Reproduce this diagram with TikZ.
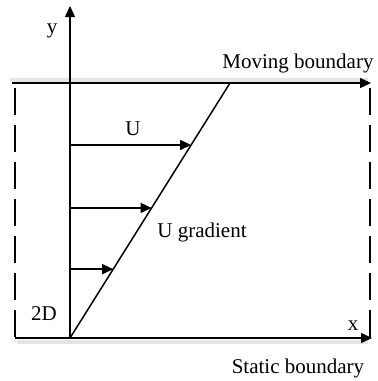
\documentclass[tikz,border=0pt]{standalone}
\usepackage{fontspec}
\setmainfont{Liberation Serif}
\usetikzlibrary{arrows.meta, positioning, calc}

\begin{document}
\begin{tikzpicture}[
        x=0.5pt, y=-0.5pt,
        every node/.style={font=\fontsize{10.5}{12}\selectfont, inner sep=0pt},
        axis/.style={line width=0.75pt, -{Triangle[length=5.5pt, width=5pt]}},
        wall/.style={line width=0.75pt, dash pattern=on 13.5pt off 5pt},
        halo/.style={line width=1.6pt, black!10}
    ]
    \useasboundingbox (0,0) rectangle (378,381);

    % Corners of the channel
    \coordinate (o) at (70,338);
    \coordinate (ytip) at (70,6);
    \coordinate (tl) at (12,83);
    \coordinate (tr) at (371,83);
    \coordinate (bl) at (15,338);
    \coordinate (br) at (372,338);
    \coordinate (ptop) at (230,83);

    % Shading under the boundaries
    \draw[halo] (10,80) -- (368,80);
    \draw[halo] (17,342) -- (368,342);

    % Axes and boundaries
    \draw[axis] (o) -- (ytip);
    \draw[axis] (tl) -- (tr);
    \draw[axis] (bl) -- (br);
    \draw[wall] (15,88) -- (bl);
    \draw[wall] (370,88) -- (370,338);

    % Velocity profile
    \draw[line width=0.75pt] (o) -- (ptop);
    \foreach \t/\n in {0.757/1, 0.51/2, 0.27/3} {
        \coordinate (g\n) at ($(o)!\t!(ptop)$);
        \draw[axis] (o |- g\n) -- (g\n);
    }

    % Labels
    \node[anchor=base] (lblY) at (52,33) {y};
    \node[anchor=base] (lblX) at (353,330) {x};
    \node[anchor=base] (lblMove) at (298,68) {Moving boundary};
    \node[anchor=base] (lblStatic) at (298,373) {Static boundary};
    \node[anchor=base] (lblU) at (133,135) {U};
    \node[anchor=base] (lblGrad) at (202,237) {U gradient};
    \node[anchor=base] (lbl2D) at (44,320) {2D};

\end{tikzpicture}
\end{document}
